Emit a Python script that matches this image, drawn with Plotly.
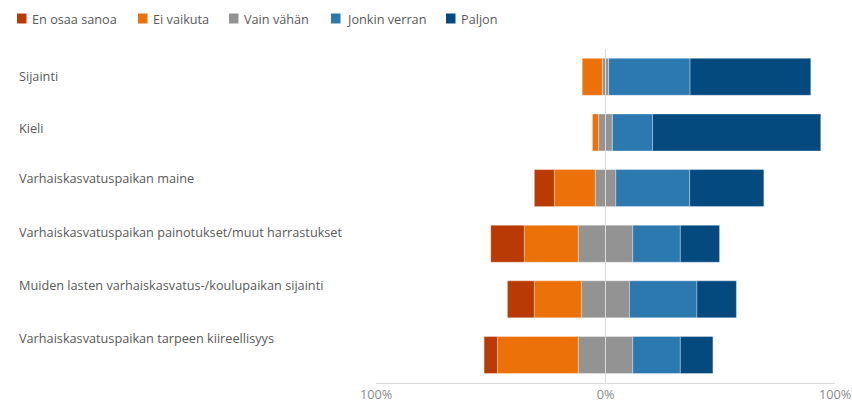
import plotly.graph_objects as go

# Survey data: share of answers (%) per factor
categories = [
    "Sijainti",
    "Kieli",
    "Varhaiskasvatuspaikan maine",
    "Varhaiskasvatuspaikan painotukset/muut harrastukset",
    "Muiden lasten varhaiskasvatus-/koulupaikan sijainti",
    "Varhaiskasvatuspaikan tarpeen kiireellisyys",
]
en_osaa_sanoa = [0.0, 0.0, 8.7, 14.6, 11.7, 5.8]
ei_vaikuta = [8.8, 2.7, 17.8, 23.5, 20.6, 35.2]
vain_vahan = [2.7, 6.0, 9.0, 23.8, 20.9, 23.8]
jonkin_verran = [35.5, 17.5, 32.2, 20.7, 29.4, 20.7]
paljon = [52.6, 73.3, 32.3, 17.1, 17.2, 14.2]

series_names = ["En osaa sanoa", "Ei vaikuta", "Vain vähän", "Jonkin verran", "Paljon"]
colors = ["#BA3A03", "#EC7108", "#939393", "#2C79AF", "#054A7F"]

tick_vals = [-100, 0, 100]
tick_text = ["100%", "0%", "100%"]

# Canvas / layout geometry
W, H = 852, 406
ML, MR, MT, MB = 376, 17, 49, 23
PW, PH = W - ML - MR, H - MT - MB
FONT = "Open Sans, Noto Sans, sans-serif"
TEXT_COLOR = "#595959"
GRID = "#dadada"
FS = 12.7


def px_x(p):
    return (p - ML) / PW


def px_y(p):
    return (H - MB - p) / PH


edge = dict(width=0.6, color="rgba(255,255,255,0.55)")


def bar(values, color, name):
    return go.Bar(
        y=categories, x=values, orientation="h", name=name,
        marker=dict(color=color, line=edge), showlegend=False,
        hovertemplate="%{y}<br>" + name + ": %{customdata:.1f}%<extra></extra>",
        customdata=[abs(v) for v in values],
    )


fig = go.Figure()
half_gray = [v / 2 for v in vain_vahan]
# Neutral answers split evenly around zero; negative side stacks leftwards
fig.add_trace(bar([-v for v in half_gray], colors[2], series_names[2]))
fig.add_trace(bar(half_gray, colors[2], series_names[2]))
fig.add_trace(bar([-v for v in ei_vaikuta], colors[1], series_names[1]))
fig.add_trace(bar([-v for v in en_osaa_sanoa], colors[0], series_names[0]))
fig.add_trace(bar(jonkin_verran, colors[3], series_names[3]))
fig.add_trace(bar(paljon, colors[4], series_names[4]))

# Category labels, left-aligned at the page edge, sitting towards the top of each row
label_shift = [1, 4.5, 9.7, 11.8, 14.5, 17]
annotations = []
for cat, sh in zip(categories, label_shift):
    annotations.append(dict(
        x=px_x(16.5), xref="paper", xanchor="left",
        y=cat, yref="y", yanchor="middle", yshift=sh,
        text=cat, showarrow=False,
        font=dict(family=FONT, size=FS, color=TEXT_COLOR),
    ))

# Legend row: colour square followed by the series name
legend_sq_x = [17, 138, 229, 331, 446]
shapes = []
for name, col, sx in zip(series_names, colors, legend_sq_x):
    shapes.append(dict(
        type="rect", xref="paper", yref="paper",
        x0=px_x(sx), x1=px_x(sx + 9.5), y0=px_y(23.5), y1=px_y(13.5),
        fillcolor=col, line=dict(width=0),
    ))
    annotations.append(dict(
        x=px_x(sx + 12.5), xref="paper", xanchor="left",
        y=px_y(18.5), yref="paper", yanchor="middle",
        text=name, showarrow=False,
        font=dict(family=FONT, size=FS, color=TEXT_COLOR),
    ))

# Zero reference line drawn over the bars
shapes.append(dict(
    type="line", xref="x", yref="paper", x0=0, x1=0, y0=0, y1=1,
    line=dict(color=GRID, width=1), layer="above",
))

fig.update_layout(
    width=W, height=H,
    margin=dict(l=ML, r=MR, t=MT, b=MB, pad=0),
    barmode="relative",
    bargap=0.335,
    plot_bgcolor="white",
    paper_bgcolor="white",
    font=dict(family=FONT, size=FS, color=TEXT_COLOR),
    annotations=annotations,
    shapes=shapes,
    xaxis=dict(
        range=[-100, 100],
        tickvals=tick_vals, ticktext=tick_text,
        showgrid=True, gridcolor=GRID, gridwidth=1,
        zeroline=False,
        showline=True, linecolor=GRID, linewidth=1,
        ticks="", tickfont=dict(family=FONT, size=FS, color="#8a8a8a"),
        automargin=False,
        fixedrange=True,
    ),
    yaxis=dict(
        categoryorder="array", categoryarray=categories,
        autorange="reversed",
        showticklabels=False, showgrid=False, zeroline=False, ticks="",
        automargin=False,
        fixedrange=True,
    ),
)

fig.write_html("out.html")
